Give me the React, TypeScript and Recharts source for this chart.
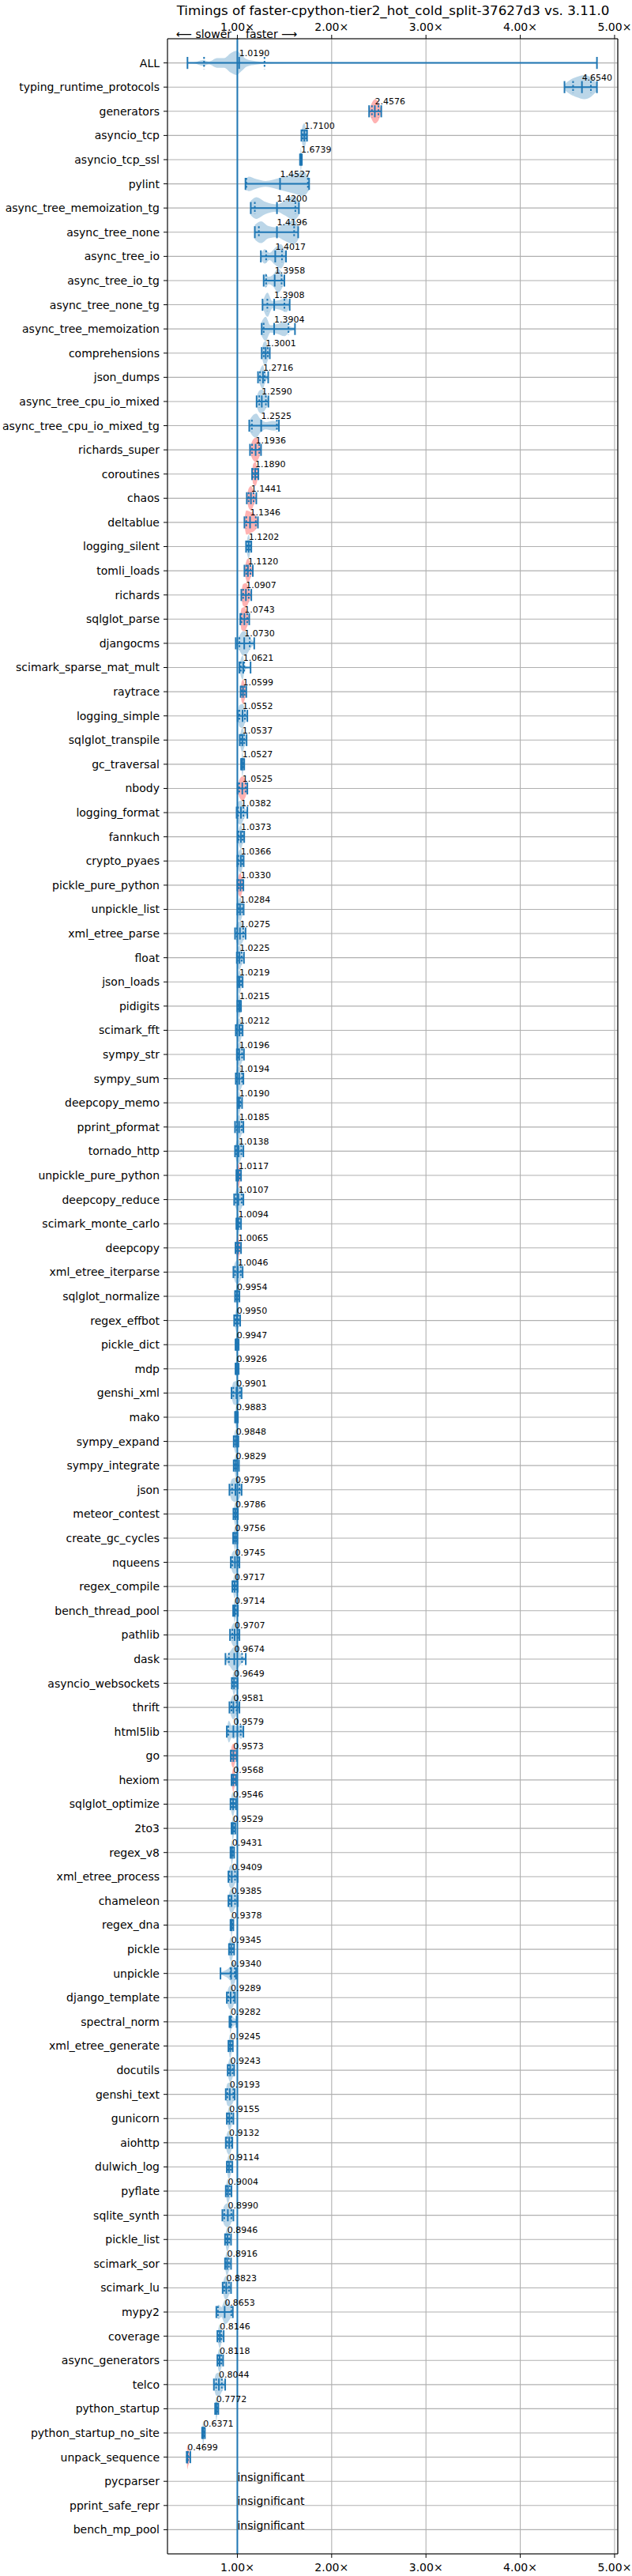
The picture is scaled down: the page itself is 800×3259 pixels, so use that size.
import React from "react"
import { ComposedChart, XAxis, YAxis, CartesianGrid, Area, Scatter, ErrorBar, ReferenceLine } from "recharts"

const benchmarks = [
  "ALL", "typing_runtime_protocols", "generators", "asyncio_tcp", "asyncio_tcp_ssl", "pylint",
  "async_tree_memoization_tg", "async_tree_none", "async_tree_io", "async_tree_io_tg", "async_tree_none_tg",
  "async_tree_memoization", "comprehensions", "json_dumps", "async_tree_cpu_io_mixed", "async_tree_cpu_io_mixed_tg",
  "richards_super", "coroutines", "chaos", "deltablue", "logging_silent", "tomli_loads", "richards", "sqlglot_parse",
  "djangocms", "scimark_sparse_mat_mult", "raytrace", "logging_simple", "sqlglot_transpile", "gc_traversal", "nbody",
  "logging_format", "fannkuch", "crypto_pyaes", "pickle_pure_python", "unpickle_list", "xml_etree_parse", "float",
  "json_loads", "pidigits", "scimark_fft", "sympy_str", "sympy_sum", "deepcopy_memo", "pprint_pformat", "tornado_http",
  "unpickle_pure_python", "deepcopy_reduce", "scimark_monte_carlo", "deepcopy", "xml_etree_iterparse", "sqlglot_normalize",
  "regex_effbot", "pickle_dict", "mdp", "genshi_xml", "mako", "sympy_expand", "sympy_integrate", "json", "meteor_contest",
  "create_gc_cycles", "nqueens", "regex_compile", "bench_thread_pool", "pathlib", "dask", "asyncio_websockets", "thrift",
  "html5lib", "go", "hexiom", "sqlglot_optimize", "2to3", "regex_v8", "xml_etree_process", "chameleon", "regex_dna",
  "pickle", "unpickle", "django_template", "spectral_norm", "xml_etree_generate", "docutils", "genshi_text", "gunicorn",
  "aiohttp", "dulwich_log", "pyflate", "sqlite_synth", "pickle_list", "scimark_sor", "scimark_lu", "mypy2", "coverage",
  "async_generators", "telco", "python_startup", "python_startup_no_site", "unpack_sequence", "pycparser",
  "pprint_safe_repr", "bench_mp_pool",
]

// speedup label per benchmark (null = insignificant)
const speedups: (number | null)[] = [
  1.0190, 4.6540, 2.4576, 1.7100, 1.6739, 1.4527, 1.4200, 1.4196, 1.4017, 1.3958, 1.3908, 1.3904, 1.3001, 1.2716,
  1.2590, 1.2525, 1.1936, 1.1890, 1.1441, 1.1346, 1.1202, 1.1120, 1.0907, 1.0743, 1.0730, 1.0621, 1.0599, 1.0552,
  1.0537, 1.0527, 1.0525, 1.0382, 1.0373, 1.0366, 1.0330, 1.0284, 1.0275, 1.0225, 1.0219, 1.0215, 1.0212, 1.0196,
  1.0194, 1.0190, 1.0185, 1.0138, 1.0117, 1.0107, 1.0094, 1.0065, 1.0046, 0.9954, 0.9950, 0.9947, 0.9926, 0.9901,
  0.9883, 0.9848, 0.9829, 0.9795, 0.9786, 0.9756, 0.9745, 0.9717, 0.9714, 0.9707, 0.9674, 0.9649, 0.9581, 0.9579,
  0.9573, 0.9568, 0.9546, 0.9529, 0.9431, 0.9409, 0.9385, 0.9378, 0.9345, 0.9340, 0.9289, 0.9282, 0.9245, 0.9243,
  0.9193, 0.9155, 0.9132, 0.9114, 0.9004, 0.8990, 0.8946, 0.8916, 0.8823, 0.8653, 0.8146, 0.8118, 0.8044, 0.7772,
  0.6371, 0.4699, null, null, null,
]

// [min, q1, median, q3, max]
const whiskers: (number[] | null)[] = [
  [0.471, 0.647, 1.019, 1.288, 4.813], [4.469, 4.56, 4.654, 4.749, 4.813], [2.397, 2.427, 2.4576, 2.496, 2.526],
  [1.679, 1.692, 1.71, 1.727, 1.739], [1.664, 1.669, 1.6739, 1.679, 1.684], [1.086, 1.095, 1.4527, 1.748, 1.761],
  [1.142, 1.185, 1.42, 1.615, 1.653], [1.185, 1.228, 1.4196, 1.602, 1.645], [1.249, 1.305, 1.4017, 1.473, 1.516],
  [1.279, 1.305, 1.3958, 1.469, 1.499], [1.267, 1.318, 1.3908, 1.499, 1.555], [1.258, 1.279, 1.3904, 1.542, 1.611],
  [1.258, 1.28, 1.3001, 1.322, 1.344], [1.219, 1.24, 1.2716, 1.29, 1.327], [1.204, 1.232, 1.259, 1.302, 1.329],
  [1.126, 1.154, 1.2525, 1.419, 1.441], [1.134, 1.156, 1.1936, 1.232, 1.251], [1.156, 1.167, 1.189, 1.207, 1.223],
  [1.1, 1.12, 1.1441, 1.172, 1.201], [1.075, 1.095, 1.1346, 1.195, 1.218], [1.092, 1.106, 1.1202, 1.134, 1.148],
  [1.075, 1.095, 1.112, 1.139, 1.164], [1.042, 1.061, 1.0907, 1.121, 1.148], [1.031, 1.045, 1.0743, 1.104, 1.126],
  [0.983, 1.022, 1.073, 1.131, 1.179], [1.022, 1.036, 1.0621, 1.073, 1.14], [1.034, 1.045, 1.0599, 1.076, 1.095],
  [1.003, 1.022, 1.0552, 1.08, 1.106], [1.025, 1.039, 1.0537, 1.073, 1.098], [1.039, 1.046, 1.0527, 1.062, 1.073],
  [1.003, 1.02, 1.0525, 1.087, 1.106], [0.992, 1.008, 1.0382, 1.064, 1.106], [1.003, 1.014, 1.0373, 1.056, 1.073],
  [1.0, 1.011, 1.0366, 1.053, 1.067], [1.0, 1.014, 1.033, 1.05, 1.064], [1.0, 1.011, 1.0284, 1.05, 1.067],
  [0.975, 0.994, 1.0275, 1.062, 1.087], [0.994, 1.003, 1.0225, 1.045, 1.07], [1.003, 1.008, 1.0219, 1.039, 1.056],
  [1.0, 1.008, 1.0215, 1.03, 1.039], [0.983, 0.994, 1.0212, 1.039, 1.056], [0.994, 1.006, 1.0196, 1.05, 1.07],
  [0.983, 0.994, 1.0194, 1.05, 1.064], [1.003, 1.01, 1.019, 1.03, 1.05], [0.975, 0.994, 1.0185, 1.045, 1.064],
  [0.975, 0.989, 1.0138, 1.042, 1.064], [0.989, 1.0, 1.0117, 1.025, 1.039], [0.966, 0.983, 1.0107, 1.045, 1.064],
  [0.989, 1.0, 1.0094, 1.02, 1.039], [0.98, 0.992, 1.0065, 1.02, 1.039], [0.958, 0.975, 1.0046, 1.036, 1.056],
  [0.975, 0.986, 0.9954, 1.008, 1.022], [0.966, 0.98, 0.995, 1.011, 1.03], [0.98, 0.988, 0.9947, 1.003, 1.014],
  [0.98, 0.986, 0.9926, 1.0, 1.014], [0.938, 0.958, 0.9901, 1.028, 1.045], [0.975, 0.98, 0.9883, 0.997, 1.006],
  [0.961, 0.969, 0.9848, 0.997, 1.011], [0.961, 0.972, 0.9829, 0.997, 1.017], [0.916, 0.944, 0.9795, 1.022, 1.045],
  [0.958, 0.966, 0.9786, 0.992, 1.006], [0.955, 0.963, 0.9756, 0.989, 1.0], [0.93, 0.947, 0.9745, 1.003, 1.022],
  [0.947, 0.958, 0.9717, 0.989, 1.003], [0.955, 0.963, 0.9714, 0.983, 1.006], [0.922, 0.947, 0.9707, 1.003, 1.022],
  [0.874, 0.91, 0.9674, 1.05, 1.089], [0.941, 0.95, 0.9649, 0.983, 1.003], [0.916, 0.938, 0.9581, 0.992, 1.022],
  [0.888, 0.905, 0.9579, 1.036, 1.064], [0.93, 0.941, 0.9573, 0.975, 0.994], [0.938, 0.947, 0.9568, 0.97, 0.986],
  [0.927, 0.938, 0.9546, 0.969, 0.986], [0.938, 0.944, 0.9529, 0.963, 0.978], [0.927, 0.933, 0.9431, 0.952, 0.966],
  [0.905, 0.916, 0.9409, 0.975, 1.003], [0.905, 0.919, 0.9385, 0.975, 1.003], [0.927, 0.932, 0.9378, 0.947, 0.958],
  [0.911, 0.92, 0.9345, 0.952, 0.966], [0.821, 0.927, 0.934, 0.972, 0.986], [0.888, 0.905, 0.9289, 0.961, 0.975],
  [0.916, 0.922, 0.9282, 0.936, 0.992], [0.905, 0.913, 0.9245, 0.938, 0.952], [0.897, 0.911, 0.9243, 0.95, 0.966],
  [0.877, 0.894, 0.9193, 0.958, 0.972], [0.888, 0.902, 0.9155, 0.938, 0.958], [0.877, 0.891, 0.9132, 0.936, 0.947],
  [0.888, 0.897, 0.9114, 0.93, 0.947], [0.877, 0.886, 0.9004, 0.919, 0.938], [0.841, 0.861, 0.899, 0.936, 0.958],
  [0.869, 0.88, 0.8946, 0.913, 0.933], [0.869, 0.877, 0.8916, 0.91, 0.933], [0.844, 0.861, 0.8823, 0.911, 0.933],
  [0.777, 0.794, 0.8653, 0.936, 0.952], [0.788, 0.8, 0.8146, 0.83, 0.855], [0.788, 0.797, 0.8118, 0.83, 0.849],
  [0.751, 0.775, 0.8044, 0.835, 0.871], [0.764, 0.77, 0.7772, 0.786, 0.798], [0.626, 0.631, 0.6371, 0.645, 0.656],
  [0.463, 0.466, 0.4699, 0.476, 0.501], null, null, null,
]

// violin half-width (in rows) at min, q1, median, q3, max
const violinWidths: (number[] | null)[] = [
  null, null, [0.05, 0.35, 0.5, 0.38, 0.06], [0.1, 0.4, 0.5, 0.3, 0.05], [0.05, 0.3, 0.5, 0.3, 0.05], null,
  null, null, null, null, null, null, [0.1, 0.45, 0.5, 0.3, 0.05], [0.05, 0.3, 0.5, 0.25, 0.05],
  [0.2, 0.45, 0.5, 0.3, 0.1], null, [0.05, 0.35, 0.5, 0.3, 0.05], [0.05, 0.4, 0.5, 0.35, 0.05],
  [0.05, 0.4, 0.5, 0.3, 0.05], [0.1, 0.5, 0.45, 0.3, 0.05], [0.05, 0.35, 0.5, 0.3, 0.05], [0.05, 0.4, 0.5, 0.3, 0.05],
  [0.1, 0.45, 0.5, 0.3, 0.05], [0.05, 0.45, 0.5, 0.3, 0.05], null, null, [0.05, 0.4, 0.5, 0.35, 0.05],
  [0.1, 0.45, 0.5, 0.3, 0.05], [0.05, 0.4, 0.5, 0.3, 0.05], [0.05, 0.3, 0.5, 0.3, 0.05], [0.05, 0.35, 0.5, 0.35, 0.05],
  [0.1, 0.45, 0.5, 0.3, 0.05], [0.05, 0.3, 0.5, 0.3, 0.05], [0.05, 0.35, 0.5, 0.3, 0.05], [0.05, 0.4, 0.5, 0.3, 0.05],
  [0.05, 0.35, 0.5, 0.3, 0.05], [0.1, 0.4, 0.5, 0.3, 0.05], [0.05, 0.4, 0.5, 0.3, 0.05], [0.05, 0.3, 0.5, 0.3, 0.05],
  [0.05, 0.3, 0.5, 0.3, 0.05], [0.05, 0.35, 0.5, 0.35, 0.05], [0.05, 0.4, 0.5, 0.3, 0.05], [0.05, 0.4, 0.5, 0.3, 0.05],
  [0.05, 0.3, 0.5, 0.3, 0.05], [0.05, 0.35, 0.5, 0.3, 0.05], [0.05, 0.4, 0.5, 0.3, 0.05], [0.05, 0.3, 0.5, 0.3, 0.05],
  [0.05, 0.35, 0.5, 0.35, 0.05], [0.05, 0.3, 0.5, 0.3, 0.05], [0.05, 0.3, 0.5, 0.3, 0.05], [0.1, 0.4, 0.5, 0.3, 0.05],
  [0.05, 0.3, 0.5, 0.3, 0.05], [0.05, 0.35, 0.5, 0.3, 0.05], [0.05, 0.3, 0.5, 0.3, 0.05], [0.05, 0.3, 0.5, 0.3, 0.05],
  [0.1, 0.45, 0.5, 0.3, 0.05], [0.05, 0.3, 0.5, 0.3, 0.05], [0.05, 0.35, 0.5, 0.3, 0.05], [0.05, 0.3, 0.5, 0.3, 0.05],
  [0.1, 0.45, 0.5, 0.35, 0.05], [0.05, 0.3, 0.5, 0.3, 0.05], [0.05, 0.3, 0.5, 0.3, 0.05], [0.1, 0.4, 0.5, 0.3, 0.05],
  [0.05, 0.3, 0.5, 0.3, 0.05], [0.05, 0.3, 0.5, 0.3, 0.05], [0.1, 0.4, 0.5, 0.3, 0.05], null,
  [0.05, 0.3, 0.5, 0.3, 0.05], [0.1, 0.4, 0.5, 0.3, 0.05], null, [0.05, 0.4, 0.5, 0.3, 0.05],
  [0.05, 0.35, 0.5, 0.3, 0.05], [0.05, 0.35, 0.5, 0.3, 0.05], [0.05, 0.3, 0.5, 0.3, 0.05], [0.05, 0.3, 0.5, 0.3, 0.05],
  [0.1, 0.4, 0.5, 0.3, 0.05], [0.1, 0.4, 0.5, 0.3, 0.05], [0.05, 0.3, 0.5, 0.3, 0.05], [0.05, 0.4, 0.5, 0.3, 0.05],
  [0.05, 0.3, 0.5, 0.4, 0.05], [0.1, 0.4, 0.5, 0.3, 0.05], [0.05, 0.4, 0.5, 0.3, 0.1], [0.05, 0.35, 0.5, 0.3, 0.05],
  [0.1, 0.4, 0.5, 0.3, 0.05], [0.1, 0.45, 0.5, 0.3, 0.05], [0.05, 0.35, 0.5, 0.3, 0.05], [0.05, 0.4, 0.5, 0.3, 0.05],
  [0.05, 0.35, 0.5, 0.3, 0.05], [0.05, 0.35, 0.5, 0.3, 0.05], [0.1, 0.4, 0.5, 0.3, 0.05], [0.05, 0.35, 0.5, 0.3, 0.05],
  [0.05, 0.35, 0.5, 0.3, 0.05], [0.1, 0.4, 0.5, 0.3, 0.05], null, [0.05, 0.35, 0.5, 0.3, 0.05],
  [0.05, 0.35, 0.5, 0.3, 0.05], [0.1, 0.45, 0.5, 0.3, 0.05], [0.05, 0.3, 0.5, 0.3, 0.05], [0.05, 0.3, 0.5, 0.3, 0.05],
  [0.05, 0.3, 0.5, 0.4, 0.1], null, null, null,
]

// multi-modal violins: [speedup, half-width]
const violinShapes: Record<string, number[][]> = {
  ALL: [[0.471, 0.01], [0.55, 0.03], [0.635, 0.12], [0.7, 0.06], [0.785, 0.2], [0.86, 0.2], [0.93, 0.4], [0.99, 0.5],
    [1.04, 0.35], [1.1, 0.15], [1.2, 0.07], [1.3, 0.03], [1.6, 0.01], [2.5, 0.005], [4.813, 0.003]],
  typing_runtime_protocols: [[4.469, 0.12], [4.53, 0.3], [4.6, 0.42], [4.68, 0.5], [4.75, 0.4], [4.813, 0.15]],
  pylint: [[1.086, 0.15], [1.12, 0.3], [1.2, 0.2], [1.3, 0.12], [1.45, 0.25], [1.6, 0.4], [1.7, 0.5], [1.761, 0.25]],
  async_tree_memoization_tg: [[1.142, 0.3], [1.2, 0.45], [1.3, 0.25], [1.42, 0.15], [1.5, 0.3], [1.6, 0.5], [1.653, 0.3]],
  async_tree_none: [[1.185, 0.3], [1.25, 0.45], [1.33, 0.25], [1.42, 0.2], [1.5, 0.35], [1.6, 0.5], [1.645, 0.3]],
  async_tree_io: [[1.249, 0.1], [1.29, 0.3], [1.34, 0.15], [1.4, 0.35], [1.46, 0.5], [1.516, 0.1]],
  async_tree_io_tg: [[1.279, 0.1], [1.3, 0.3], [1.33, 0.15], [1.38, 0.25], [1.43, 0.5], [1.499, 0.1]],
  async_tree_none_tg: [[1.267, 0.1], [1.32, 0.5], [1.37, 0.15], [1.45, 0.2], [1.52, 0.3], [1.555, 0.05]],
  async_tree_memoization: [[1.258, 0.3], [1.3, 0.5], [1.35, 0.15], [1.42, 0.2], [1.5, 0.3], [1.56, 0.1], [1.611, 0.05]],
  async_tree_cpu_io_mixed_tg: [[1.126, 0.2], [1.17, 0.45], [1.2, 0.5], [1.24, 0.3], [1.3, 0.15], [1.38, 0.2], [1.441, 0.15]],
  djangocms: [[0.983, 0.1], [1.02, 0.3], [1.06, 0.5], [1.1, 0.45], [1.14, 0.2], [1.179, 0.05]],
  scimark_sparse_mat_mult: [[1.022, 0.05], [1.04, 0.4], [1.058, 0.5], [1.075, 0.15], [1.1, 0.03], [1.14, 0.01]],
  dask: [[0.874, 0.05], [0.92, 0.3], [0.965, 0.5], [1.01, 0.35], [1.05, 0.15], [1.089, 0.03]],
  html5lib: [[0.888, 0.1], [0.91, 0.45], [0.94, 0.25], [0.96, 0.3], [1.0, 0.2], [1.04, 0.3], [1.064, 0.05]],
  mypy2: [[0.777, 0.1], [0.8, 0.3], [0.83, 0.2], [0.87, 0.5], [0.92, 0.3], [0.952, 0.05]],
}

const redViolins = [
  "generators", "richards_super", "coroutines", "chaos", "deltablue", "tomli_loads", "richards", "sqlglot_parse",
  "raytrace", "nbody", "pickle_pure_python", "unpickle_pure_python", "deepcopy", "go", "hexiom", "unpack_sequence",
]

const xTicks = [1, 2, 3, 4, 5]
const xDomain = [0.259, 5.034]

const BLUE = "#1f77b4"
const FONT = "DejaVu Sans"
const rowTicks = benchmarks.map((_, i) => i + 1)

const violins = benchmarks.flatMap((name, i) => {
  const w = whiskers[i]
  if (!w) return []
  const pts = violinShapes[name] ?? w.map((x, k) => [x, (violinWidths[i] as number[])[k]])
  return [{
    name,
    red: redViolins.includes(name),
    data: pts.map(([x, hw]) => ({ x, band: [i + 1 - hw, i + 1 + hw] })),
  }]
})

const medians = benchmarks.flatMap((_, i) => {
  const w = whiskers[i]
  return w ? [{ x: w[2], y: i + 1, err: [w[2] - w[0], w[4] - w[2]] }] : []
})

const quartiles = benchmarks.flatMap((_, i) => {
  const w = whiskers[i]
  return w ? [{ x: w[1], y: i + 1 }, { x: w[3], y: i + 1 }] : []
})

const labels = benchmarks.map((_, i) => {
  const v = speedups[i]
  return v == null ? { x: 1, y: i + 1, t: "insignificant", big: true } : { x: v, y: i + 1, t: v.toFixed(4), big: false }
})

const fmtX = (v: number) => `${v.toFixed(2)}×`

const capShape = (dash?: string) => (p: any) => (
  <line x1={p.cx} x2={p.cx} y1={p.cy - 7.6} y2={p.cy + 7.6} stroke={BLUE} strokeWidth={2} strokeDasharray={dash} />
)

const labelShape = (p: any) => (
  <text
    x={p.cx}
    y={p.payload.big ? p.cy - 0.5 : p.cy - 8.5}
    fontSize={p.payload.big ? 14 : 11}
    fontFamily={FONT}
    fill="#000"
  >
    {p.payload.t}
  </text>
)

export default function App() {
  const tick = { fontFamily: FONT, fontSize: 14, fill: "#000" }
  return (
    <div style={{ position: "absolute", left: 0, top: 0, width: 800, height: 3259, background: "#fff" }}>
      <ComposedChart width={800} height={3259} margin={{ top: 19, right: 18, bottom: 8, left: 12 }}>
        <CartesianGrid stroke="#b0b0b0" strokeWidth={1.1} xAxisId="bottom" />
        <XAxis
          xAxisId="bottom"
          type="number"
          dataKey="x"
          domain={xDomain}
          allowDataOverflow
          ticks={xTicks}
          tickFormatter={fmtX}
          height={20}
          tickSize={5}
          tickMargin={7}
          tick={tick}
          stroke="#000"
          interval={0}
        />
        <XAxis
          xAxisId="top"
          orientation="top"
          type="number"
          dataKey="x"
          domain={xDomain}
          allowDataOverflow
          ticks={xTicks}
          tickFormatter={fmtX}
          height={30}
          tickSize={5}
          tickMargin={5.5}
          tick={tick}
          stroke="#000"
          interval={0}
        />
        <YAxis
          type="number"
          dataKey="y"
          domain={[0, benchmarks.length + 1]}
          allowDataOverflow
          reversed
          ticks={rowTicks}
          interval={0}
          tickFormatter={(v: number) => benchmarks[v - 1] ?? ""}
          width={200}
          tickSize={5}
          tickMargin={5}
          tick={tick}
          stroke="#000"
        />
        {violins.map((v) => (
          <Area
            key={v.name}
            xAxisId="bottom"
            data={v.data}
            dataKey="band"
            type="monotone"
            stroke="none"
            fill={v.red ? "#ff0000" : BLUE}
            fillOpacity={0.3}
            dot={false}
            activeDot={false}
            isAnimationActive={false}
          />
        ))}
        <ReferenceLine xAxisId="bottom" x={1} stroke={BLUE} strokeWidth={2} />
        <ReferenceLine xAxisId="bottom" x={xDomain[1]} stroke="#000" strokeWidth={1.1} />
        <Scatter xAxisId="bottom" data={quartiles} shape={capShape("2.5 2.5")} isAnimationActive={false} />
        <Scatter xAxisId="bottom" data={medians} shape={capShape()} isAnimationActive={false}>
          <ErrorBar dataKey="err" direction="x" width={7.6} stroke={BLUE} strokeWidth={2} isAnimationActive={false} />
        </Scatter>
        <Scatter xAxisId="bottom" data={labels} shape={labelShape} isAnimationActive={false} />
      </ComposedChart>
      <svg width={800} height={60} style={{ position: "absolute", left: 0, top: 0, pointerEvents: "none" }}>
        <text x={497.5} y={19} textAnchor="middle" fontFamily={FONT} fontSize={16.7} fill="#000">
          Timings of faster-cpython-tier2_hot_cold_split-37627d3 vs. 3.11.0
        </text>
        <text x={293} y={48.3} textAnchor="end" fontFamily={FONT} fontSize={14} fill="#000">
          ⟵ slower
        </text>
        <text x={311} y={48.3} textAnchor="start" fontFamily={FONT} fontSize={14} fill="#000">
          faster ⟶
        </text>
      </svg>
    </div>
  )
}
